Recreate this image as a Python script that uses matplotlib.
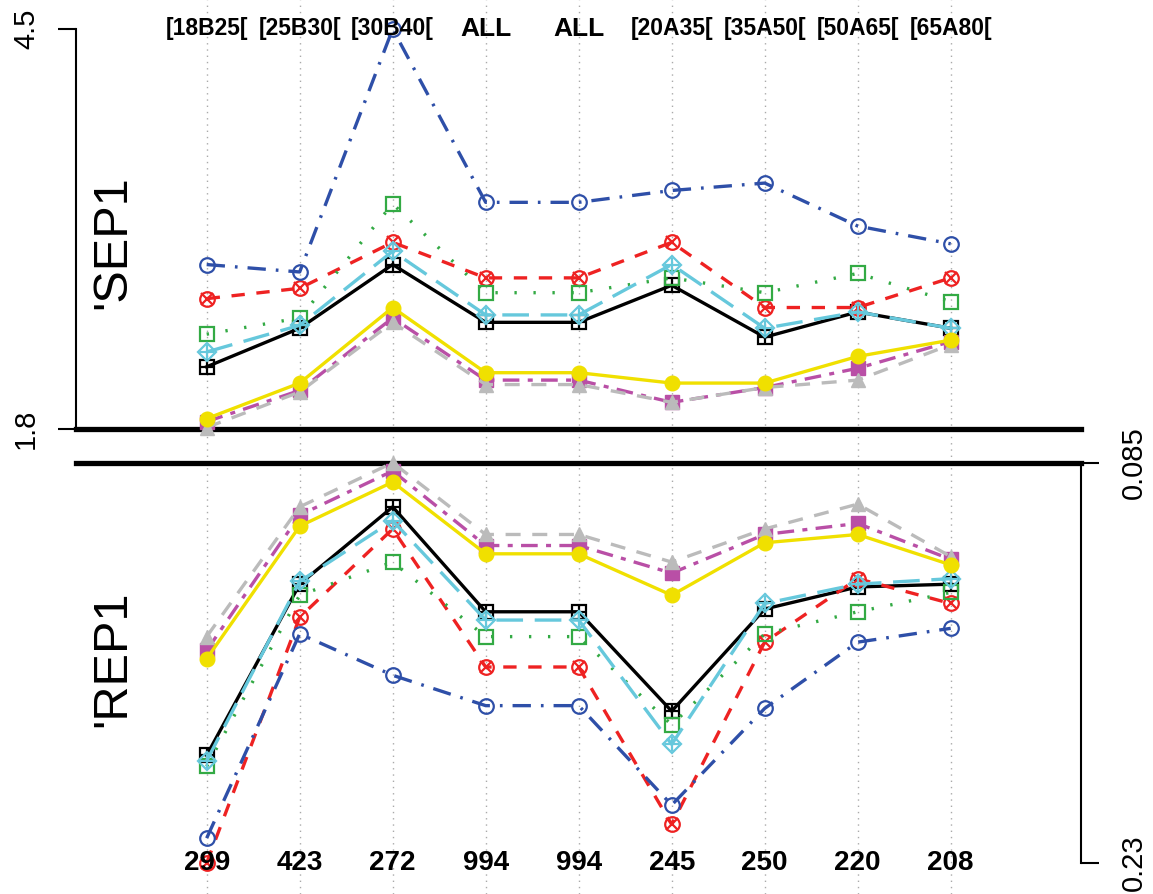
import matplotlib
matplotlib.use("Agg")
import matplotlib.pyplot as plt
import numpy as np

plt.rcParams['font.family'] = ['Liberation Sans', 'DejaVu Sans']

top_labels = ["[18B25[", "[25B30[", "[30B40[", "ALL", "ALL", "[20A35[", "[35A50[", "[50A65[", "[65A80["]
bottom_labels = ["299", "423", "272", "994", "994", "245", "250", "220", "208"]

# 'SEP1 panel values
sep_black   = [2.22, 2.48, 2.91, 2.52, 2.52, 2.77, 2.42, 2.59, 2.48]
sep_red     = [2.68, 2.75, 3.06, 2.82, 2.82, 3.06, 2.62, 2.62, 2.82]
sep_green   = [2.44, 2.55, 3.32, 2.72, 2.72, 2.82, 2.72, 2.85, 2.66]
sep_blue    = [2.91, 2.86, 4.50, 3.33, 3.33, 3.41, 3.46, 3.17, 3.05]
sep_cyan    = [2.32, 2.50, 3.00, 2.57, 2.57, 2.91, 2.48, 2.59, 2.48]
sep_magenta = [1.85, 2.06, 2.55, 2.13, 2.13, 1.98, 2.08, 2.21, 2.39]
sep_gray    = [1.81, 2.05, 2.52, 2.10, 2.10, 1.98, 2.08, 2.13, 2.37]
sep_yellow  = [1.87, 2.11, 2.62, 2.18, 2.18, 2.11, 2.11, 2.29, 2.40]

# 'REP1 panel values
rep_black   = [0.191, 0.129, 0.101, 0.139, 0.139, 0.175, 0.138, 0.130, 0.129]
rep_red     = [0.230, 0.141, 0.109, 0.159, 0.159, 0.216, 0.150, 0.127, 0.136]
rep_green   = [0.195, 0.133, 0.121, 0.148, 0.148, 0.180, 0.147, 0.139, 0.132]
rep_blue    = [0.221, 0.147, 0.162, 0.173, 0.173, 0.209, 0.174, 0.150, 0.145]
rep_cyan    = [0.193, 0.128, 0.106, 0.142, 0.142, 0.187, 0.136, 0.129, 0.127]
rep_magenta = [0.153, 0.104, 0.088, 0.115, 0.115, 0.125, 0.111, 0.107, 0.120]
rep_gray    = [0.148, 0.101, 0.085, 0.111, 0.111, 0.121, 0.109, 0.100, 0.119]
rep_yellow  = [0.156, 0.108, 0.092, 0.118, 0.118, 0.133, 0.114, 0.111, 0.122]

sep_range = (1.8, 4.5)
rep_range = (0.085, 0.23)

styles = [
    dict(color='black',   dashes=None,           marker='s', fill=False, over='+'),
    dict(color='#EE2222', dashes=(4, 3.5),       marker='o', fill=False, over='x'),
    dict(color='#33AA44', dashes=(0.7, 5),       marker='s', fill=False, over=None),
    dict(color='#2E4FA8', dashes=(5.5, 3, 0.8, 3), marker='o', fill=False, over=None),
    dict(color='#66C8DC', dashes=(8, 3.5),       marker='D', fill=False, over='+'),
    dict(color='#B94FA6', dashes=(5, 2.5, 1.5, 2.5), marker='s', fill=True, over=None),
    dict(color='#BBBBBB', dashes=(4.5, 3.5),     marker='^', fill=True, over=None),
    dict(color='#F0E000', dashes=None,           marker='o', fill=True, over=None),
]

sep_series = [sep_black, sep_red, sep_green, sep_blue, sep_cyan, sep_magenta, sep_gray, sep_yellow]
rep_series = [rep_black, rep_red, rep_green, rep_blue, rep_cyan, rep_magenta, rep_gray, rep_yellow]

W, H = 1153, 894
fig = plt.figure(figsize=(W / 100, H / 100), dpi=100)

x = np.arange(len(bottom_labels))
xlim = (-1.405, 9.401)
left_px, right_px = 76, 1081

# background axes for the full-height vertical dotted grid
bg = fig.add_axes([0, 0, 1, 1])
span = (xlim[1] - xlim[0]) / ((right_px - left_px) / W)
bg_x0 = xlim[0] - span * left_px / W
bg.set_xlim(bg_x0, bg_x0 + span)
bg.set_ylim(0, 1)
for xi in x:
    bg.axvline(xi, color='#AAAAAA', lw=1.0, linestyle=(0, (1, 3.5)))
bg.axis('off')

axw = (right_px - left_px) / W
ax_top = fig.add_axes([left_px / W, 1 - 429 / H, axw, 400 / H])
ax_bot = fig.add_axes([left_px / W, 1 - 863 / H, axw, 400.3 / H])
for a in (ax_top, ax_bot):
    a.set_facecolor('none')
    a.set_xlim(*xlim)
    a.set_xticks([])

ax_top.set_ylim(*sep_range)
ax_bot.set_ylim(rep_range[1], rep_range[0])


def draw(ax, series):
    for vals, st in zip(series, styles):
        kw = dict(color=st['color'], lw=2.4, marker=st['marker'],
                  markersize=10.5 if st['marker'] != 'D' else 9.5,
                  clip_on=False, zorder=3)
        if st['fill']:
            kw.update(markerfacecolor=st['color'], markeredgecolor=st['color'])
        else:
            kw.update(markerfacecolor='none', markeredgecolor=st['color'], markeredgewidth=1.6)
        line, = ax.plot(x, vals, **kw)
        if st['dashes'] is not None:
            line.set_dashes(st['dashes'])
        if st['over']:
            ax.plot(x, vals, linestyle='none', marker=st['over'],
                    markersize=10.5 if st['over'] == '+' else 8.5,
                    markeredgewidth=1.6, color=st['color'], clip_on=False, zorder=3)


draw(ax_top, sep_series)
draw(ax_bot, rep_series)

for s in ('top', 'right'):
    ax_top.spines[s].set_visible(False)
ax_top.spines['bottom'].set_linewidth(3.8)
ax_top.spines['left'].set_linewidth(1.5)
ax_top.spines['bottom'].set_zorder(2)
ax_top.set_yticks(list(sep_range))
ax_top.set_yticklabels(['1.8', '4.5'], rotation=90, va='center', fontsize=21)
ax_top.tick_params(axis='y', length=13, width=1.5, pad=13)

for s in ('bottom', 'left'):
    ax_bot.spines[s].set_visible(False)
ax_bot.spines['top'].set_linewidth(3.8)
ax_bot.spines['right'].set_linewidth(1.5)
ax_bot.spines['top'].set_zorder(2)
ax_bot.yaxis.tick_right()
ax_bot.set_yticks(list(rep_range))
ax_bot.set_yticklabels(['0.085', '0.23'], rotation=90, va='center', fontsize=21)
ax_bot.tick_params(axis='y', length=13, width=1.5, pad=15)

for xi, lab in zip(x, top_labels):
    ax_top.text(xi, 1.0, lab, transform=ax_top.get_xaxis_transform(), ha='center', va='center',
                fontsize=19 if lab == 'ALL' else 16.5, fontweight='bold', zorder=5)
for xi, lab in zip(x, bottom_labels):
    ax_bot.text(xi, 0.0, lab, transform=ax_bot.get_xaxis_transform(), ha='center', va='center',
                fontsize=20, fontweight='bold', zorder=5)

fig.text(113 / W, 1 - 242 / H, "'SEP1", rotation=90, ha='center', va='center', fontsize=35)
fig.text(113 / W, 1 - 659 / H, "'REP1", rotation=90, ha='center', va='center', fontsize=35)

fig.savefig('out.png', dpi=100)
